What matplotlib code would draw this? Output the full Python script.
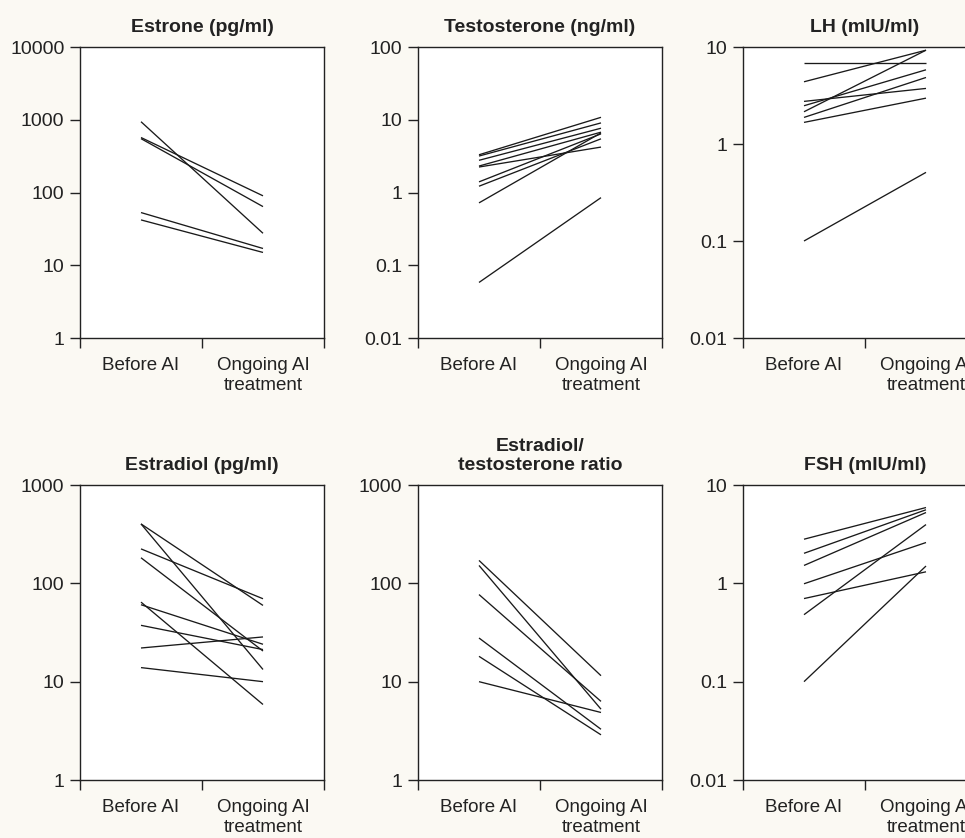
import matplotlib
matplotlib.use("Agg")
import matplotlib.pyplot as plt
from matplotlib.ticker import FixedLocator, FixedFormatter, NullLocator

plt.rcParams['font.family'] = ['Liberation Sans', 'DejaVu Sans']

# ---- data ----
categories = ["Before AI", "Ongoing AI\ntreatment"]

estrone_before = [940, 570, 550, 53, 42]
estrone_after = [27.5, 90, 64, 17, 15]

testo_before = [3.3, 3.17, 2.77, 2.31, 2.24, 1.40, 1.22, 0.72, 0.058]
testo_after = [10.8, 9.05, 7.65, 6.75, 4.21, 6.4, 5.47, 6.6, 0.85]

lh_before = [6.92, 4.38, 2.15, 2.75, 2.48, 1.88, 1.67, 0.10]
lh_after = [6.92, 9.27, 9.27, 3.74, 5.82, 4.85, 2.97, 0.51]

estradiol_before = [402, 402, 224, 182, 64.4, 60.6, 37.4, 22, 13.9]
estradiol_after = [59.6, 13.3, 69.7, 20.5, 5.86, 24, 21.2, 28.5, 10]

ratio_before = [171, 152, 76.9, 27.8, 18.1, 10]
ratio_after = [11.5, 5.25, 6.3, 3.28, 2.88, 4.86]

fsh_before = [2.81, 2.02, 1.52, 0.99, 0.70, 0.48, 0.10]
fsh_after = [5.9, 5.6, 5.25, 2.6, 1.31, 3.96, 1.50]

panels = [
    ("Estrone (pg/ml)", estrone_before, estrone_after,
     [1, 10, 100, 1000, 10000], ["1", "10", "100", "1000", "10000"]),
    ("Testosterone (ng/ml)", testo_before, testo_after,
     [0.01, 0.1, 1, 10, 100], ["0.01", "0.1", "1", "10", "100"]),
    ("LH (mIU/ml)", lh_before, lh_after,
     [0.01, 0.1, 1, 10], ["0.01", "0.1", "1", "10"]),
    ("Estradiol (pg/ml)", estradiol_before, estradiol_after,
     [1, 10, 100, 1000], ["1", "10", "100", "1000"]),
    ("Estradiol/\ntestosterone ratio", ratio_before, ratio_after,
     [1, 10, 100, 1000], ["1", "10", "100", "1000"]),
    ("FSH (mIU/ml)", fsh_before, fsh_after,
     [0.01, 0.1, 1, 10], ["0.01", "0.1", "1", "10"]),
]

W, H = 965, 838
fig = plt.figure(figsize=(W / 100, H / 100), dpi=100, facecolor='#fbf9f3')

lefts = [80, 418, 743]
row_tb = [(47, 338), (485, 780)]
aw = 244

for i, (title, b, a, yt, ytl) in enumerate(panels):
    r, c = divmod(i, 3)
    top, bot = row_tb[r]
    ax = fig.add_axes([lefts[c] / W, 1 - bot / H, aw / W, (bot - top) / H])
    ax.set_facecolor('white')
    for bb, aa in zip(b, a):
        ax.plot([0.5, 1.5], [bb, aa], color='#1a1a1a', lw=0.95, solid_capstyle='butt')
    ax.set_yscale('log')
    ax.set_ylim(yt[0], yt[-1])
    ax.set_xlim(0, 2)
    ax.yaxis.set_major_locator(FixedLocator(yt))
    ax.yaxis.set_major_formatter(FixedFormatter(ytl))
    ax.yaxis.set_minor_locator(NullLocator())
    ax.xaxis.set_major_locator(FixedLocator([0.5, 1.5]))
    ax.xaxis.set_major_formatter(FixedFormatter(categories))
    ax.xaxis.set_minor_locator(FixedLocator([0, 1, 2]))
    ax.tick_params(axis='x', which='major', length=0, pad=14, labelsize=13.5, colors='#222222')
    ax.tick_params(axis='x', which='minor', length=7.2, width=1.0, direction='out', color='#222222')
    ax.tick_params(axis='y', which='major', length=7.2, width=1.0, direction='out', pad=4,
                   labelsize=14, colors='#222222')
    for lab in ax.get_xticklabels():
        lab.set_multialignment('center')
        lab.set_linespacing(1.2)
    for sp in ax.spines.values():
        sp.set_linewidth(1.0)
        sp.set_color('#222222')
    ax.set_title(title, fontsize=14, fontweight='bold', pad=11, color='#222222', linespacing=1.1)

fig.savefig('out.png', dpi=100, facecolor=fig.get_facecolor())
